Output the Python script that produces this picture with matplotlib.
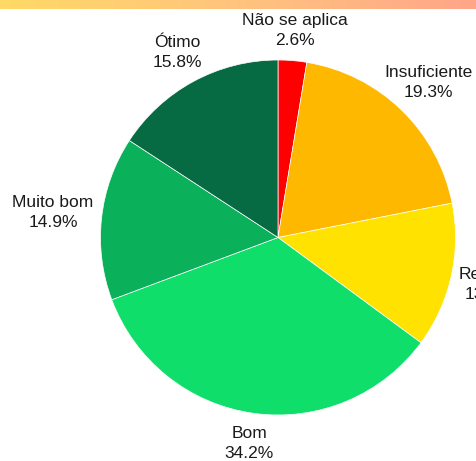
import numpy as np
import matplotlib
matplotlib.use("Agg")
import matplotlib.pyplot as plt
from matplotlib.colors import LinearSegmentedColormap

categories = ["Não se aplica", "Insuficiente", "Regular", "Bom", "Muito bom", "Ótimo"]
values = [2.6, 19.3, 13.2, 34.2, 14.9, 15.8]
colors = ["#FF0000", "#FFB800", "#FFE200", "#10DE6B", "#0BB05A", "#066B43"]
pct_labels = ["2.6%", "19.3%", "13.2%", "34.2%", "14.9%", "15.8%"]

W, H = 477, 461
DPI = 100
plt.rcParams['font.family'] = ['Liberation Sans', 'DejaVu Sans']

fig = plt.figure(figsize=(W / DPI, H / DPI), dpi=DPI)
fig.patch.set_facecolor("white")

# top gradient bar
bar_h = 9
gax = fig.add_axes([0, 1 - bar_h / H, 1, bar_h / H])
cmap = LinearSegmentedColormap.from_list("g", ["#FFD966", "#FFC47E", "#FFA589"])
gax.imshow(np.linspace(0, 1, 256)[None, :], aspect="auto", cmap=cmap, extent=[0, 1, 0, 1])
gax.set_axis_off()

# pie
cx, cy, r = 278, 237.5, 177.5
ax = fig.add_axes([(cx - r) / W, (H - cy - r) / H, 2 * r / W, 2 * r / H])
wedges, _ = ax.pie(values, colors=colors, startangle=90, counterclock=False,
                   radius=1, wedgeprops=dict(edgecolor="white", linewidth=0.5))
ax.set_xlim(-1, 1)
ax.set_ylim(-1, 1)
ax.set_aspect("equal")
ax.set_axis_off()

# labels placed outside along the bisector
renderer = fig.canvas.get_renderer()
base = 185.5
for w, cat, pl in zip(wedges, categories, pct_labels):
    ang = np.deg2rad((w.theta1 + w.theta2) / 2)
    sx, sy = np.cos(ang), np.sin(ang)
    t = fig.text(0, 0, f"{cat}\n{pl}", ha="center", va="center", fontsize=12.5,
                 color="#1a1a1a", linespacing=1.45, multialignment="center")
    bb = t.get_window_extent(renderer)
    hw, hh = bb.width / 2, 22.0
    ext = min(hw / max(abs(sx), 1e-9), hh / max(abs(sy), 1e-9))
    d = base + ext
    px = cx + sx * d
    py = (H - cy) + sy * d
    t.set_position((px / W, py / H))

fig.savefig("out.png", dpi=DPI)
